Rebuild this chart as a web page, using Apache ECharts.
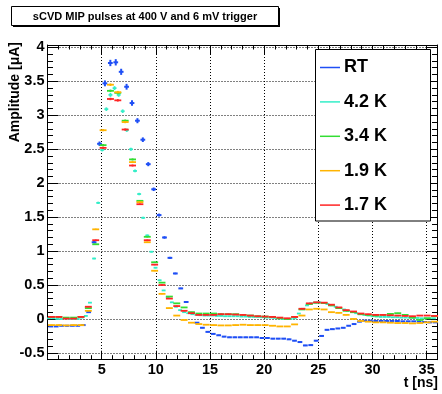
<!DOCTYPE html>
<html>
<head>
<meta charset="utf-8">
<script src="https://cdn.jsdelivr.net/npm/echarts@6/dist/echarts.min.js"></script>
<style>
  html, body { margin: 0; padding: 0; background: #fff; }
  #chart { width: 442px; height: 394px; }
</style>
</head>
<body>
<div id="chart"></div>
<script>
const FONT = '"Liberation Sans", Arial, Helvetica, sans-serif';

// RT scan, 0.5 ns steps
const tRT = [0.3, 0.8, 1.3, 1.8, 2.3, 2.8, 3.3, 3.8, 4.3, 4.8,
  5.3, 5.8, 6.3, 6.8, 7.3, 7.8, 8.3, 8.8, 9.3, 9.8,
  10.3, 10.8, 11.3, 11.8, 12.3, 12.8, 13.3, 13.8, 14.3, 14.8,
  15.3, 15.8, 16.3, 16.8, 17.3, 17.8, 18.3, 18.8, 19.3, 19.8,
  20.3, 20.8, 21.3, 21.8, 22.3, 22.8, 23.3, 23.8, 24.3, 24.8,
  25.3, 25.8, 26.3, 26.8, 27.3, 27.8, 28.3, 28.8, 29.3, 29.8,
  30.3, 30.8, 31.3, 31.8, 32.3, 32.8, 33.3, 33.8, 34.3, 34.8,
  35.3, 35.8];
const vRT = [-0.11, -0.11, -0.10, -0.10, -0.10, -0.10, -0.09, 0.10, 1.13, 2.58,
  3.47, 3.77, 3.78, 3.64, 3.42, 3.18, 2.92, 2.64, 2.28, 1.91,
  1.53, 1.20, 0.90, 0.67, 0.45, 0.25, 0.09, -0.055, -0.13, -0.19,
  -0.22, -0.24, -0.26, -0.27, -0.27, -0.27, -0.27, -0.27, -0.27, -0.28,
  -0.28, -0.29, -0.29, -0.29, -0.30, -0.32, -0.34, -0.39, -0.385, -0.32,
  -0.25, -0.16, -0.15, -0.14, -0.13, -0.10, -0.075, -0.04, -0.025, -0.025,
  -0.03, -0.03, -0.03, -0.03, -0.03, -0.035, -0.035, -0.035, -0.04, -0.045,
  -0.05, -0.05];

// 4.2 K scan
const t42 = [0.14, 0.52, 0.90, 1.27, 1.65, 2.03, 2.41, 2.79, 3.16, 3.54,
  3.92, 4.30, 4.68, 5.05, 5.43, 5.81, 6.19, 6.57, 6.94, 7.32,
  7.70, 8.08, 8.46, 8.83, 9.21, 9.59, 9.97, 10.35, 10.72, 11.10,
  11.48, 11.86, 12.24, 12.61, 12.99, 13.37, 13.75, 14.13, 14.50, 14.88,
  15.26, 15.64, 16.02, 16.39, 16.77, 17.15, 17.53, 17.91, 18.28, 18.66,
  19.04, 19.42, 19.80, 20.17, 20.55, 20.93, 21.31, 21.69, 22.06, 22.44,
  22.82, 23.20, 23.58, 23.95, 24.33, 24.71, 25.09, 25.47, 25.84, 26.22,
  26.60, 26.98, 27.36, 27.73, 28.11, 28.49, 28.87, 29.25, 29.62, 30.00,
  30.38, 30.76, 31.14, 31.51, 31.89, 32.27, 32.65, 33.03, 33.40, 33.78,
  34.16, 34.54, 34.92, 35.30, 35.67];
const v42 = [0.01, 0.01, 0.0, 0.0, 0.01, 0.0, 0.0, 0.0, 0.02, 0.045,
  0.24, 0.89, 1.71, 2.49, 3.09, 3.30, 3.40, 3.30, 3.06, 2.78,
  2.50, 2.18, 1.84, 1.49, 1.23, 0.99, 0.755, 0.57, 0.42, 0.32,
  0.245, 0.18, 0.13, 0.10, 0.085, 0.07, 0.06, 0.055, 0.05, 0.05,
  0.05, 0.045, 0.045, 0.04, 0.04, 0.04, 0.04, 0.035, 0.035, 0.03,
  0.03, 0.03, 0.025, 0.02, 0.02, 0.015, 0.01, 0.0, 0.0, 0.0,
  0.01, 0.08, 0.15, 0.20, 0.23, 0.24, 0.245, 0.235, 0.22, 0.20,
  0.18, 0.16, 0.14, 0.12, 0.10, 0.085, 0.07, 0.06, 0.05, 0.04,
  0.035, 0.03, 0.03, 0.03, 0.025, 0.025, 0.02, 0.02, 0.02, 0.015,
  0.015, 0.01, 0.01, 0.01, 0.01];

// 3.4 K, 1.9 K and 1.7 K share one time base
const tCold = [0.37, 1.05, 1.73, 2.41, 3.09, 3.77, 4.45, 5.13, 5.81, 6.49,
  7.17, 7.85, 8.53, 9.21, 9.89, 10.57, 11.25, 11.93, 12.61, 13.29,
  13.97, 14.65, 15.33, 16.01, 16.69, 17.37, 18.05, 18.73, 19.41, 20.09,
  20.77, 21.45, 22.13, 22.81, 23.49, 24.17, 24.85, 25.53, 26.21, 26.89,
  27.57, 28.25, 28.93, 29.61, 30.29, 30.97, 31.65, 32.33, 33.01, 33.69,
  34.37, 35.05, 35.73];
const v34 = [0.03, 0.03, 0.02, 0.02, 0.03, 0.16, 1.10, 2.56, 3.36, 3.33,
  2.92, 2.35, 1.74, 1.21, 0.835, 0.535, 0.33, 0.23, 0.17, 0.10,
  0.08, 0.08, 0.08, 0.07, 0.07, 0.07, 0.06, 0.05, 0.04, 0.035,
  0.03, 0.01, 0.0, 0.03, 0.14, 0.22, 0.24, 0.235, 0.20, 0.16,
  0.12, 0.10, 0.07, 0.06, 0.05, 0.06, 0.075, 0.085, 0.06, 0.02,
  -0.015, 0.01, 0.04];
const v19 = [-0.09, -0.09, -0.095, -0.09, -0.09, 0.12, 1.32, 2.78, 3.45, 3.34,
  2.90, 2.31, 1.72, 1.13, 0.71, 0.37, 0.16, 0.05, -0.015, -0.055,
  -0.075, -0.085, -0.09, -0.095, -0.095, -0.09, -0.085, -0.09, -0.09, -0.09,
  -0.10, -0.11, -0.11, -0.08, 0.05, 0.14, 0.15, 0.14, 0.10, 0.09,
  0.06, 0.0, -0.03, -0.04, -0.05, -0.05, -0.055, -0.06, -0.06, -0.065,
  -0.06, -0.05, -0.04];
const v17 = [0.03, 0.03, 0.005, 0.005, 0.03, 0.18, 1.16, 2.52, 3.24, 3.22,
  2.79, 2.26, 1.69, 1.16, 0.80, 0.50, 0.30, 0.19, 0.12, 0.085,
  0.06, 0.06, 0.06, 0.07, 0.07, 0.065, 0.06, 0.05, 0.04, 0.035,
  0.03, 0.02, 0.01, 0.03, 0.15, 0.23, 0.245, 0.24, 0.21, 0.17,
  0.13, 0.11, 0.08, 0.07, 0.06, 0.06, 0.055, 0.05, 0.045, 0.04,
  0.05, 0.05, 0.045];

const legendNames = ['RT', '4.2 K', '3.4 K', '1.9 K', '1.7 K'];
const colors = ['#1f4ff5', '#33eec8', '#33dd33', '#ffb400', '#ff2424'];

const zip = (ts, vs) => ts.map((t, i) => [t, vs[i]]);

// error-bar marker: horizontal bin width plus small vertical error
function errorBars(color, halfWidth, errFrac, width) {
  return function (params, api) {
    const t = api.value(0), v = api.value(1);
    const dv = errFrac * Math.abs(v) + 0.005;
    const l = api.coord([t - halfWidth, v]);
    const r = api.coord([t + halfWidth, v]);
    const a = api.coord([t, v + dv]);
    const b = api.coord([t, v - dv]);
    const style = { stroke: color, lineWidth: width };
    return {
      type: 'group',
      children: [
        { type: 'line', shape: { x1: l[0], y1: l[1], x2: r[0], y2: r[1] }, style },
        { type: 'line', shape: { x1: a[0], y1: a[1], x2: b[0], y2: b[1] }, style }
      ]
    };
  };
}

const seriesDefs = [
  { name: 'RT', data: zip(tRT, vRT), hw: 0.22, err: 0.011, lw: 2 },
  { name: '4.2 K', data: zip(t42, v42), hw: 0.18, err: 0.007, lw: 1.8 },
  { name: '3.4 K', data: zip(tCold, v34), hw: 0.32, err: 0.004, lw: 1.8 },
  { name: '1.9 K', data: zip(tCold, v19), hw: 0.32, err: 0.004, lw: 1.8 },
  { name: '1.7 K', data: zip(tCold, v17), hw: 0.32, err: 0.004, lw: 1.8 }
];

const labelStyle = { fontFamily: FONT, fontWeight: 'bold', fontSize: 14.5, color: '#000' };
const black = { color: '#000', width: 1 };

function xAxisDef(position, interval, tickLen, main) {
  return {
    type: 'value', position, min: 0, max: 36, interval,
    axisLine: { show: main, onZero: false, lineStyle: black },
    axisTick: { show: true, inside: true, length: tickLen, lineStyle: black },
    axisLabel: (main && position === 'bottom')
      ? Object.assign({ margin: 3, formatter: v => (v === 0 ? '' : String(v)) }, labelStyle)
      : { show: false },
    splitLine: { show: main && position === 'bottom', lineStyle: { color: '#000', width: 1, type: [1, 2] } }
  };
}

function yAxisDef(position, major, tickLen) {
  const ax = {
    type: 'value', position, min: -0.6, max: 4.035,
    axisLine: { show: major, onZero: false, lineStyle: black },
    axisTick: { show: true, inside: true, length: tickLen, lineStyle: black },
    axisLabel: { show: false },
    splitLine: { show: false }
  };
  if (major) {
    ax.minInterval = 0.5;
    ax.maxInterval = 0.5;
    ax.splitNumber = 9;
  } else {
    ax.interval = 0.1;
  }
  if (major && position === 'left') {
    ax.axisLabel = Object.assign({
      margin: 3,
      formatter: v => (Math.abs(v * 2 - Math.round(v * 2)) < 1e-6 ? String(Math.round(v * 10) / 10) : '')
    }, labelStyle);
    ax.splitLine = { show: true, lineStyle: { color: '#000', width: 1, type: [1, 2] } };
  }
  return ax;
}

const legendTop = 67.5, legendStep = 34.4;
const legendGraphics = [{
  type: 'rect', z: 100,
  shape: { x: 315.5, y: 49.5, width: 115, height: 171.5 },
  style: { fill: '#fff', stroke: '#000', lineWidth: 1 }
}];
legendNames.forEach((name, i) => {
  const y = legendTop + i * legendStep;
  legendGraphics.push({
    type: 'line', z: 101,
    shape: { x1: 320, y1: y, x2: 340, y2: y },
    style: { stroke: colors[i], lineWidth: 1.5 }
  });
  legendGraphics.push({
    type: 'text', z: 101, x: 344, y: y,
    style: { text: name, font: 'bold 18px ' + FONT, fill: '#000', verticalAlign: 'middle', align: 'left' }
  });
});

const chart = echarts.init(document.getElementById('chart'), null, { renderer: 'canvas' });

chart.setOption({
  animation: false,
  backgroundColor: '#fff',
  grid: { left: 47.5, right: 4.5, top: 45, bottom: 34.3, containLabel: false },
  xAxis: [
    xAxisDef('bottom', 5, 9, true),
    xAxisDef('bottom', 1, 4.5, false),
    xAxisDef('top', 5, 9, true),
    xAxisDef('top', 1, 4.5, false)
  ],
  yAxis: [
    yAxisDef('left', true, 11),
    yAxisDef('left', false, 5.5),
    yAxisDef('right', true, 11),
    yAxisDef('right', false, 5.5)
  ],
  series: seriesDefs.map((s, i) => ({
    name: s.name,
    type: 'custom',
    coordinateSystem: 'cartesian2d',
    xAxisIndex: 0,
    yAxisIndex: 0,
    renderItem: errorBars(colors[i], s.hw, s.err, s.lw),
    data: s.data,
    z: 2 + i
  })),
  graphic: [
    // title box with shadow
    { type: 'rect', z: 100, shape: { x: 13, y: 8, width: 267, height: 19 }, style: { fill: '#000' } },
    { type: 'rect', z: 101, shape: { x: 11.5, y: 6.5, width: 267, height: 19 }, style: { fill: '#fff', stroke: '#000', lineWidth: 1 } },
    {
      type: 'text', z: 102, x: 145, y: 16.5,
      style: { text: 'sCVD MIP pulses at 400 V and 6 mV trigger', font: 'bold 11px ' + FONT, fill: '#000', align: 'center', verticalAlign: 'middle' }
    },
    // axis titles
    {
      type: 'text', z: 100, x: 15.5, y: 42, rotation: Math.PI / 2,
      style: { text: 'Amplitude [\u03bcA]', font: 'bold 14px ' + FONT, fill: '#000', align: 'right', verticalAlign: 'middle' }
    },
    {
      type: 'text', z: 100, x: 438, y: 383,
      style: { text: 't [ns]', font: 'bold 14px ' + FONT, fill: '#000', align: 'right', verticalAlign: 'middle' }
    }
  ].concat(legendGraphics)
});
</script>
</body>
</html>
